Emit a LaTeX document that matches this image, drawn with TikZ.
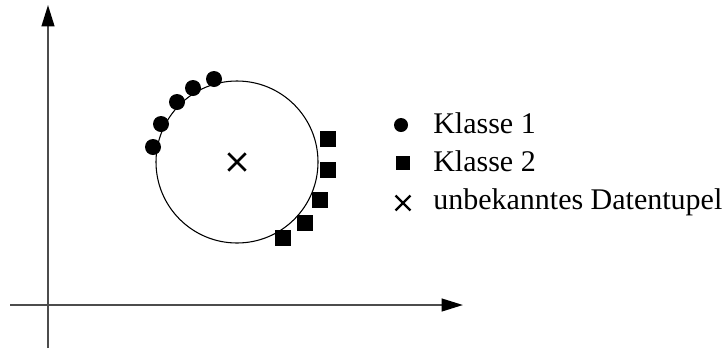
\documentclass[tikz,border=0pt]{standalone}
\usepackage{fontspec}
\setmainfont{Liberation Serif}
\usetikzlibrary{arrows.meta,shapes.misc}
\tikzset{
    axisarrow/.style={
        line width=1.6pt,
        black!70,
        -{Triangle[length=16pt, width=9.5pt, black]}
    },
    % Punkte der Klasse 1
    klasseeins/.style={circle, fill=black, inner sep=0pt, minimum size=12pt},
    % Punkte der Klasse 2
    klassezwei/.style={rectangle, fill=black, inner sep=0pt, minimum size=12pt},
    % unbekanntes Datentupel
    unbekannt/.style={cross out, draw=black, line width=2pt, inner sep=0pt, minimum size=11pt},
    legtext/.style={anchor=base west, inner sep=0pt, font=\fontsize{22.5}{27}\selectfont}
}
\begin{document}
\begin{tikzpicture}[x=0.75pt,y=-0.75pt]
	\useasboundingbox (0,0) rectangle (724,351);
	
	\path
	(48,348) coordinate (y0)
	(48,5) coordinate (y1)
	(10,305) coordinate (x0)
	(463,305) coordinate (x1)
	(237,162) coordinate (m);
	
	% Achsen
	\draw[axisarrow] (y0) -- (y1);
	\draw[axisarrow] (x0) -- (x1);
	
	% Kreis um das Datentupel
	\draw[line width=0.8pt] (m) circle (81);
	\node[unbekannt] (u) at (m) {};
	
	% Klasse 1
	\foreach \i/\x/\y in {1/153/147, 2/161/124, 3/177/102, 4/193/88, 5/214/79}
		\node[klasseeins] (c\i) at (\x,\y) {};
	
	% Klasse 2
	\foreach \i/\x/\y in {1/328/139, 2/328/170, 3/320/200, 4/305/223, 5/283/238}
		\node[klassezwei] (s\i) at (\x,\y) {};
	
	% Legende
	\node[klasseeins, minimum size=10.5pt] (l1) at (401,125) {};
	\node[klassezwei, minimum size=10.5pt] (l2) at (403,163) {};
	\node[unbekannt, minimum size=9.5pt, line width=1.7pt] (l3) at (403,203) {};
	\node[legtext] (t1) at (433,133) {Klasse 1};
	\node[legtext] (t2) at (433,171) {Klasse 2};
	\node[legtext] (t3) at (433,209) {unbekanntes Datentupel};
\end{tikzpicture}
\end{document}
